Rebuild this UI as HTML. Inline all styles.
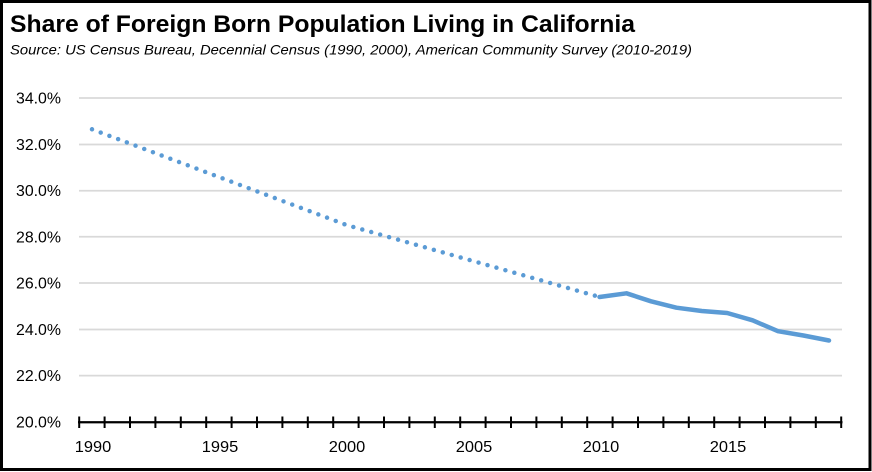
<!DOCTYPE html>
<html>
<head>
<meta charset="utf-8">
<style>
html,body{margin:0;padding:0;background:#fff;}
svg{display:block;}
</style>
</head>
<body>
<svg width="872" height="472" viewBox="0 0 872 472" xmlns="http://www.w3.org/2000/svg">
  <rect x="0" y="0" width="872" height="472" fill="#fff"/>
  <rect x="1.5" y="1.5" width="868.5" height="468" fill="none" stroke="#000" stroke-width="3"/>

  <text x="10" y="32" font-family="Liberation Sans, sans-serif" font-weight="bold" font-size="24.5" textLength="625" lengthAdjust="spacingAndGlyphs" fill="#000">Share of Foreign Born Population Living in California</text>
  <text x="10" y="54.5" font-family="Liberation Sans, sans-serif" font-style="italic" font-size="14" textLength="682" lengthAdjust="spacingAndGlyphs" fill="#000">Source:  US Census Bureau, Decennial Census (1990, 2000), American Community Survey (2010-2019)</text>

  <!-- gridlines -->
  <g stroke="#D9D9D9" stroke-width="1.75">
    <line x1="79" y1="98" x2="842" y2="98"/>
    <line x1="79" y1="144.5" x2="842" y2="144.5"/>
    <line x1="79" y1="190.7" x2="842" y2="190.7"/>
    <line x1="79" y1="236.8" x2="842" y2="236.8"/>
    <line x1="79" y1="283" x2="842" y2="283"/>
    <line x1="79" y1="329.5" x2="842" y2="329.5"/>
    <line x1="79" y1="375.6" x2="842" y2="375.6"/>
  </g>

  <!-- y labels -->
  <g font-family="Liberation Sans, sans-serif" font-size="15.5" fill="#000" text-anchor="end">
    <text x="61" y="103.5" textLength="45" lengthAdjust="spacingAndGlyphs">34.0%</text>
    <text x="61" y="150" textLength="45" lengthAdjust="spacingAndGlyphs">32.0%</text>
    <text x="61" y="196.2" textLength="45" lengthAdjust="spacingAndGlyphs">30.0%</text>
    <text x="61" y="242.3" textLength="45" lengthAdjust="spacingAndGlyphs">28.0%</text>
    <text x="61" y="288.5" textLength="45" lengthAdjust="spacingAndGlyphs">26.0%</text>
    <text x="61" y="335" textLength="45" lengthAdjust="spacingAndGlyphs">24.0%</text>
    <text x="61" y="381" textLength="45" lengthAdjust="spacingAndGlyphs">22.0%</text>
    <text x="61" y="427.3" textLength="45" lengthAdjust="spacingAndGlyphs">20.0%</text>
  </g>

  <!-- x axis -->
  <line x1="78" y1="422.3" x2="842.5" y2="422.3" stroke="#000" stroke-width="2.25"/>
  <g stroke="#000" stroke-width="2">
    <line x1="79.2" y1="416.5" x2="79.2" y2="428"/>
    <line x1="104.6" y1="416.5" x2="104.6" y2="428"/>
    <line x1="130" y1="416.5" x2="130" y2="428"/>
    <line x1="155.4" y1="416.5" x2="155.4" y2="428"/>
    <line x1="180.8" y1="416.5" x2="180.8" y2="428"/>
    <line x1="206.2" y1="416.5" x2="206.2" y2="428"/>
    <line x1="231.6" y1="416.5" x2="231.6" y2="428"/>
    <line x1="257" y1="416.5" x2="257" y2="428"/>
    <line x1="282.4" y1="416.5" x2="282.4" y2="428"/>
    <line x1="307.8" y1="416.5" x2="307.8" y2="428"/>
    <line x1="333.2" y1="416.5" x2="333.2" y2="428"/>
    <line x1="358.6" y1="416.5" x2="358.6" y2="428"/>
    <line x1="384" y1="416.5" x2="384" y2="428"/>
    <line x1="409.4" y1="416.5" x2="409.4" y2="428"/>
    <line x1="434.8" y1="416.5" x2="434.8" y2="428"/>
    <line x1="460.2" y1="416.5" x2="460.2" y2="428"/>
    <line x1="485.6" y1="416.5" x2="485.6" y2="428"/>
    <line x1="511" y1="416.5" x2="511" y2="428"/>
    <line x1="536.4" y1="416.5" x2="536.4" y2="428"/>
    <line x1="561.8" y1="416.5" x2="561.8" y2="428"/>
    <line x1="587.2" y1="416.5" x2="587.2" y2="428"/>
    <line x1="612.6" y1="416.5" x2="612.6" y2="428"/>
    <line x1="638" y1="416.5" x2="638" y2="428"/>
    <line x1="663.4" y1="416.5" x2="663.4" y2="428"/>
    <line x1="688.8" y1="416.5" x2="688.8" y2="428"/>
    <line x1="714.2" y1="416.5" x2="714.2" y2="428"/>
    <line x1="739.6" y1="416.5" x2="739.6" y2="428"/>
    <line x1="765" y1="416.5" x2="765" y2="428"/>
    <line x1="790.4" y1="416.5" x2="790.4" y2="428"/>
    <line x1="815.8" y1="416.5" x2="815.8" y2="428"/>
    <line x1="841.2" y1="416.5" x2="841.2" y2="428"/>
  </g>

  <!-- x labels -->
  <g font-family="Liberation Sans, sans-serif" font-size="15.5" fill="#000" text-anchor="middle">
    <text x="93" y="452" textLength="36.5" lengthAdjust="spacingAndGlyphs">1990</text>
    <text x="220" y="452" textLength="36.5" lengthAdjust="spacingAndGlyphs">1995</text>
    <text x="347" y="452" textLength="36.5" lengthAdjust="spacingAndGlyphs">2000</text>
    <text x="474" y="452" textLength="36.5" lengthAdjust="spacingAndGlyphs">2005</text>
    <text x="601" y="452" textLength="36.5" lengthAdjust="spacingAndGlyphs">2010</text>
    <text x="728" y="452" textLength="36.5" lengthAdjust="spacingAndGlyphs">2015</text>
  </g>

  <!-- dotted series -->
  <polyline points="92,129.3 346.5,225 599.5,297" fill="none" stroke="#5B9BD5" stroke-width="4.5" stroke-linecap="round" stroke-dasharray="0 9.3"/>

  <!-- solid series -->
  <polyline points="599.5,297 626.5,293.3 651,301.3 676.4,307.7 701.8,311 727.2,313 752.6,320.3 778,331.2 803.4,335.5 829,340.5" fill="none" stroke="#5B9BD5" stroke-width="4.5" stroke-linecap="round" stroke-linejoin="round"/>
</svg>
</body>
</html>
